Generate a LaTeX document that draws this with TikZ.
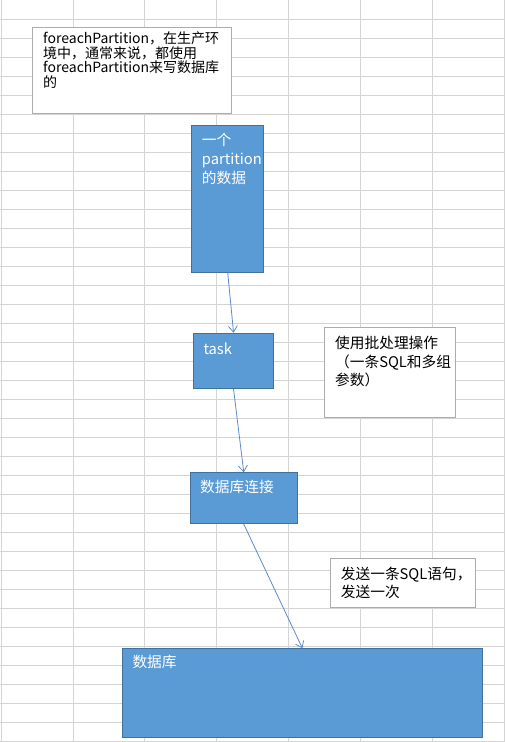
\documentclass[tikz,border=0pt]{standalone}
\usepackage{fontspec}
\setmainfont{Noto Sans CJK SC}
\usetikzlibrary{arrows.meta}
\definecolor{gridc}{RGB}{212,212,212}
\definecolor{boxblue}{RGB}{91,155,213}
\definecolor{boxedge}{RGB}{65,113,156}
\definecolor{arrowc}{RGB}{92,140,200}
\definecolor{noteedge}{RGB}{172,172,172}
\begin{document}
\begin{tikzpicture}[x=1pt,y=-1pt,
  bluebox/.style={draw=boxedge, fill=boxblue, line width=0.8pt, inner sep=0pt, anchor=north west},
  notebox/.style={draw=noteedge, fill=white, line width=0.8pt, inner sep=0pt, anchor=north west},
  labeltxt/.style={inner sep=0pt, anchor=north west, align=left, font=\fontsize{14.7}{18.6}\selectfont},
  whitetxt/.style={labeltxt, text=white},
  blacktxt/.style={labeltxt, text=black},
  flow/.style={draw=arrowc, line width=0.8pt, -{Straight Barb[length=6pt,width=9pt]}}
]
\useasboundingbox (0,0) rectangle (505,742);
\fill[white] (0,0) rectangle (505,742);
% spreadsheet grid
\foreach \x in {1,73,144,216,288,360,432,504}
  \draw[gridc, line width=0.8pt] (\x,0) -- (\x,742);
\foreach \k in {1,...,39}
  \draw[gridc, line width=0.8pt] (0,19*\k) -- (505,19*\k);

% boxes
\node[notebox, minimum width=199pt, minimum height=86pt] (note1) at (32,27) {};
\node[bluebox, minimum width=72pt, minimum height=146.7pt] (part) at (191.3,125) {};
\node[bluebox, minimum width=80.3pt, minimum height=55.6pt] (task) at (193,332.7) {};
\node[notebox, minimum width=131pt, minimum height=89.4pt] (note2) at (324.3,327.3) {};
\node[bluebox, minimum width=106.7pt, minimum height=51pt] (conn) at (190,472.3) {};
\node[notebox, minimum width=144.7pt, minimum height=49pt] (note3) at (330,558.3) {};
\node[bluebox, minimum width=359.4pt, minimum height=89pt] (db) at (122.3,648.3) {};

% texts
\node[blacktxt, font=\fontsize{14}{14.5}\selectfont] (t1) at (43,31.7)
  {foreachPartition，在生产环\\境中，通常来说，都使用\\foreachPartition来写数据库\\的};
\node[whitetxt] (t2) at (201.7,133.3) {一个\\partition\\的数据};
\node[whitetxt] (t3) at (203.3,343) {task};
\node[blacktxt] (t4) at (335,336) {使用批处理操作\\（一条SQL和多组\\参数）};
\node[whitetxt] (t5) at (200,480) {数据库连接};
\node[blacktxt] (t6) at (340.7,566.7) {发送一条SQL语句，\\发送一次};
\node[whitetxt] (t7) at (132.3,655) {数据库};

% connectors
\draw[flow] (part.south) -- (task.north);
\draw[flow] (task.south) -- (conn.north);
\draw[flow] (conn.south) -- (db.north);
\end{tikzpicture}
\end{document}
